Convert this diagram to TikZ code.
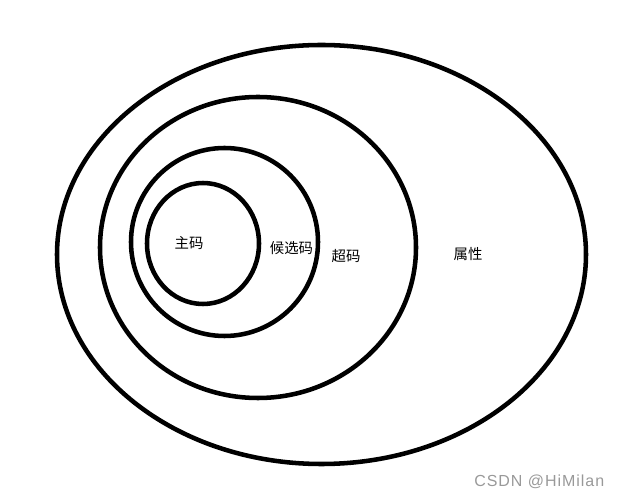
\documentclass[tikz,border=0pt]{standalone}
\usepackage{fontspec}
\setsansfont{Liberation Sans}
\newfontfamily\cjk{Noto Sans CJK SC}
\newfontfamily\wmfont[LetterSpace=6]{Liberation Sans}
\usetikzlibrary{positioning}

\begin{document}
\begin{tikzpicture}[x=0.75pt, y=-0.75pt,
    ring/.style={line width=3.4pt, black},
    lbl/.style={font=\cjk\fontsize{10.8}{12}\selectfont, inner sep=0pt},
    wmark/.style={font=\wmfont\fontsize{12}{14}\selectfont, text=black!40, inner sep=0pt}]
\useasboundingbox (0,0) rectangle (625,498);
% Nested sets
\draw[ring] (321.5,254.5) ellipse (264.5 and 209.5);
\draw[ring] (258,247.5) ellipse (158 and 150.5);
\draw[ring] (224.5,242) ellipse (93.5 and 94);
\draw[ring] (203,243.5) ellipse (56 and 60.5);

% Labels
\node[lbl] (pk) at (189,243) {主码};
\node[lbl] (ck) at (291.5,248) {候选码};
\node[lbl] (sk) at (346,256) {超码};
\node[lbl] (attr) at (468,254) {属性};

% Watermark
\node[wmark, anchor=west] (wm) at (474,482) {CSDN @HiMilan};
\end{tikzpicture}
\end{document}
